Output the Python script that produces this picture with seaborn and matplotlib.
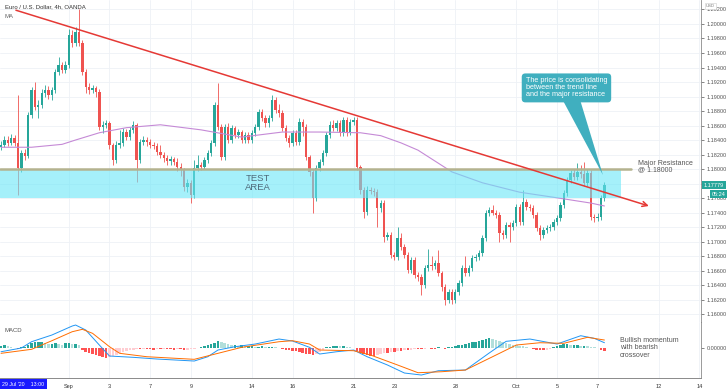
import numpy as np
import matplotlib
matplotlib.use('Agg')
import matplotlib.pyplot as plt
from matplotlib.patches import Polygon
import seaborn as sns

# ---- EUR/USD 4h candles ----
first_open = 1.1830
closes = [
    1.1833, 1.1840, 1.1836, 1.1843, 1.1836, 1.1801, 1.1822, 1.1818, 1.1875, 1.1909,
    1.1886, 1.1888, 1.1905, 1.1909, 1.1902, 1.1909, 1.1934, 1.1944, 1.1937, 1.1944,
    1.1985, 1.1974, 1.1989, 1.1974, 1.1934, 1.1913, 1.1909, 1.1912, 1.1906, 1.1858,
    1.1861, 1.1863, 1.1833, 1.1812, 1.1833, 1.1836, 1.1851, 1.1844, 1.1854, 1.1861,
    1.1812, 1.1837, 1.1840, 1.1837, 1.1833, 1.1832, 1.1823, 1.1819, 1.1815, 1.1811,
    1.1814, 1.1810, 1.1803, 1.1799, 1.1775, 1.1781, 1.1764, 1.1801, 1.1806, 1.1803,
    1.1812, 1.1822, 1.1836, 1.1888, 1.1858, 1.1817, 1.1858, 1.1840, 1.1857, 1.1847,
    1.1851, 1.1840, 1.1847, 1.1840, 1.1850, 1.1858, 1.1879, 1.1870, 1.1863, 1.1870,
    1.1895, 1.1881, 1.1877, 1.1857, 1.1843, 1.1836, 1.1850, 1.1837, 1.1865, 1.1858,
    1.1817, 1.1796, 1.1760, 1.1801, 1.1810, 1.1822, 1.1847, 1.1861, 1.1857, 1.1863,
    1.1850, 1.1868, 1.1851, 1.1865, 1.1868, 1.1803, 1.1771, 1.1741, 1.1771, 1.1770,
    1.1768, 1.1746, 1.1753, 1.1706, 1.1709, 1.1681, 1.1679, 1.1705, 1.1692, 1.1681,
    1.1661, 1.1674, 1.1654, 1.1651, 1.1640, 1.1663, 1.1668, 1.1666, 1.1670, 1.1656,
    1.1637, 1.1619, 1.1630, 1.1619, 1.1630, 1.1643, 1.1663, 1.1656, 1.1663, 1.1677,
    1.1679, 1.1684, 1.1705, 1.1739, 1.1743, 1.1740, 1.1737, 1.1712, 1.1709, 1.1723,
    1.1720, 1.1725, 1.1748, 1.1727, 1.1754, 1.1748, 1.1746, 1.1737, 1.1719, 1.1709,
    1.1716, 1.1719, 1.1720, 1.1727, 1.1732, 1.1750, 1.1767, 1.1785, 1.1794, 1.1789,
    1.1796, 1.1793, 1.1781, 1.1794, 1.1734, 1.1732, 1.1734, 1.1760, 1.1778,
]
highs = [
    1.1838, 1.1845, 1.1846, 1.1848, 1.1847, 1.1902, 1.1826, 1.1827, 1.1879, 1.1913,
    1.1920, 1.1895, 1.1910, 1.1916, 1.1914, 1.1913, 1.1938, 1.1955, 1.1948, 1.1949,
    1.1993, 1.1992, 1.1996, 1.2021, 1.1978, 1.1938, 1.1918, 1.1916, 1.1915, 1.1910,
    1.1866, 1.1868, 1.1866, 1.1836, 1.1838, 1.1854, 1.1856, 1.1855, 1.1858, 1.1866,
    1.1864, 1.1841, 1.1845, 1.1844, 1.1841, 1.1837, 1.1836, 1.1833, 1.1823, 1.1819,
    1.1818, 1.1817, 1.1815, 1.1808, 1.1802, 1.1786, 1.1785, 1.1812, 1.1820, 1.1810,
    1.1816, 1.1826, 1.1840, 1.1892, 1.1918, 1.1862, 1.1862, 1.1863, 1.1861, 1.1860,
    1.1855, 1.1854, 1.1851, 1.1851, 1.1854, 1.1862, 1.1883, 1.1883, 1.1874, 1.1874,
    1.1902, 1.1900, 1.1890, 1.1881, 1.1861, 1.1847, 1.1854, 1.1854, 1.1870, 1.1869,
    1.1862, 1.1820, 1.1800, 1.1805, 1.1814, 1.1826, 1.1851, 1.1866, 1.1868, 1.1867,
    1.1867, 1.1872, 1.1872, 1.1869, 1.1872, 1.1872, 1.1806, 1.1775, 1.1776, 1.1775,
    1.1774, 1.1772, 1.1757, 1.1757, 1.1713, 1.1713, 1.1685, 1.1720, 1.1712, 1.1696,
    1.1685, 1.1678, 1.1678, 1.1658, 1.1655, 1.1668, 1.1690, 1.1680, 1.1674, 1.1688,
    1.1660, 1.1641, 1.1634, 1.1634, 1.1634, 1.1647, 1.1667, 1.1680, 1.1667, 1.1681,
    1.1683, 1.1688, 1.1709, 1.1743, 1.1747, 1.1750, 1.1744, 1.1741, 1.1716, 1.1727,
    1.1727, 1.1729, 1.1752, 1.1752, 1.1771, 1.1758, 1.1752, 1.1750, 1.1741, 1.1723,
    1.1720, 1.1723, 1.1724, 1.1731, 1.1736, 1.1754, 1.1771, 1.1789, 1.1798, 1.1800,
    1.1808, 1.1806, 1.1810, 1.1800, 1.1798, 1.1738, 1.1740, 1.1764, 1.1782,
]
lows = [
    1.1826, 1.1830, 1.1832, 1.1833, 1.1832, 1.1764, 1.1796, 1.1812, 1.1815, 1.1870,
    1.1882, 1.1870, 1.1884, 1.1900, 1.1896, 1.1895, 1.1905, 1.1930, 1.1932, 1.1933,
    1.1940, 1.1968, 1.1970, 1.1970, 1.1930, 1.1905, 1.1904, 1.1905, 1.1900, 1.1854,
    1.1850, 1.1856, 1.1828, 1.1806, 1.1808, 1.1829, 1.1832, 1.1840, 1.1840, 1.1850,
    1.1782, 1.1808, 1.1833, 1.1832, 1.1829, 1.1827, 1.1819, 1.1815, 1.1810, 1.1806,
    1.1806, 1.1805, 1.1797, 1.1790, 1.1770, 1.1768, 1.1753, 1.1760, 1.1797, 1.1798,
    1.1800, 1.1808, 1.1818, 1.1832, 1.1854, 1.1812, 1.1813, 1.1836, 1.1836, 1.1843,
    1.1843, 1.1836, 1.1836, 1.1836, 1.1836, 1.1846, 1.1854, 1.1866, 1.1858, 1.1858,
    1.1866, 1.1877, 1.1872, 1.1852, 1.1838, 1.1831, 1.1832, 1.1833, 1.1833, 1.1845,
    1.1812, 1.1790, 1.1739, 1.1756, 1.1797, 1.1806, 1.1818, 1.1843, 1.1852, 1.1852,
    1.1846, 1.1846, 1.1846, 1.1847, 1.1861, 1.1798, 1.1766, 1.1732, 1.1737, 1.1765,
    1.1763, 1.1720, 1.1741, 1.1700, 1.1702, 1.1677, 1.1674, 1.1675, 1.1688, 1.1677,
    1.1656, 1.1657, 1.1650, 1.1645, 1.1626, 1.1636, 1.1659, 1.1661, 1.1662, 1.1652,
    1.1632, 1.1612, 1.1615, 1.1614, 1.1615, 1.1626, 1.1639, 1.1652, 1.1652, 1.1659,
    1.1673, 1.1675, 1.1680, 1.1701, 1.1735, 1.1736, 1.1733, 1.1700, 1.1703, 1.1705,
    1.1700, 1.1716, 1.1721, 1.1723, 1.1723, 1.1744, 1.1742, 1.1733, 1.1715, 1.1702,
    1.1705, 1.1712, 1.1715, 1.1716, 1.1723, 1.1728, 1.1746, 1.1763, 1.1781, 1.1785,
    1.1785, 1.1788, 1.1777, 1.1777, 1.1729, 1.1727, 1.1728, 1.1730, 1.1756,
]

# moving average (read at a few candles)
ma_index = [0, 9, 18, 22, 29, 37, 47, 59, 71, 83, 94, 106, 112, 118, 123, 133, 142, 153, 163, 174, 178]
ma_values = [1.1830, 1.1830, 1.1834, 1.1840, 1.1850, 1.1857, 1.1861, 1.1854, 1.1844, 1.1851,
             1.1851, 1.1850, 1.1846, 1.1836, 1.1826, 1.1796, 1.1781, 1.1768, 1.1761, 1.1753, 1.1749]

# MACD panel, values in 1e-4
macd_index = [0, 6, 9, 15, 21, 22, 25, 29, 32, 39, 46, 57, 61, 64, 69, 75, 82, 86, 91, 94,
              99, 104, 108, 114, 119, 124, 129, 137, 144, 149, 156, 164, 171, 175, 178]
macd_values = [-3.7, 0, 6.3, 13, 22, 23, 18, 3, -8, -9.3, -11, -13, -8.7, -2, 1.3, 4, 9, 7, 0.7, -6,
               -3.7, -2, -8.7, -17, -25, -27, -22.7, -22, -5, 6.7, 9, 4, 12.3, 9.7, 5.3]
signal_index = [0, 9, 15, 21, 24, 27, 32, 35, 43, 57, 64, 71, 82, 86, 91, 94,
                104, 109, 117, 123, 130, 137, 145, 152, 159, 166, 173, 178]
signal_values = [-5.3, -1.3, 7.3, 16.3, 18.7, 14.7, 1.3, -5.3, -8.7, -11.3, -5.3, 0.7, 6.3, 7.3, 4, -2,
                 -2.7, -7, -17, -24.7, -23.7, -22, -8.7, 3, 5.3, 4.7, 10.7, 8]
hist_values = [
    2, 3, 2, 1, 0.5, -0.5, 1, 1,
    3, 5, 6, 6, 6, 5,
    4, 4, 5, 4, 3, 5, 5, 4, 4, 3,
    -2, -4, -5, -6, -7, -8, -9, -10, -9,
    -8, -7, -5, -4, -3,
    -2, -1.5, -1, -1, -0.5, -1, -1, -1.5, -1, -1, -0.5, -0.5, -1, -1.5, -1, -1, -2, -1.5, -1, -0.5, 0,
    1, 2, 3, 4, 5, 7, 6, 5,
    4, 3, 3, 2, 3, 2, 2, 2, 1.5, 1.5, 2, 1, 1, 1.5, 1, 0.5,
    -1, -1.5, -2, -2.5, -3, -4, -5, -6, -6, -7, -6, -4, -2,
    1, 1.5, 2, 2.5, 2, 2, 1.5, 1, 0.5,
    -3, -5, -6, -7, -8, -8, -7, -6, -5, -5, -4, -4, -3, -3, -2, -2, -1.5, -1, -1,
    -1, -0.5, 0.5, -0.5, -0.5, 1, 0.5, -0.5, 1, 1.5, 2, 3,
    3, 4, 5, 6, 6, 7, 8, 9, 10, 9,
    8, 7, 6, 5, 4, 3.5, 3, 2.5, 2, 1.5, 0.5,
    -1, -2, -2, -2, -1.5, -1, 1,
    2, 3, 4, 4, 3, 3, 3, 2.5,
    2.5, 2, 1.5, 1, 0.5,
    -2, -3,
]

# x axis: trading days after 1 Sep (6 candles a day)
tick_labels = ['Sep', '3', '7', '9', '14', '16', '21', '23', '28', 'Oct', '5', '7', '12', '14']
tick_days = [0, 2, 4, 6, 9, 11, 14, 16, 19, 22, 24, 26, 29, 31]
sep1_candle = 20
price_ticks = [1.160, 1.162, 1.164, 1.166, 1.168, 1.170, 1.172, 1.174, 1.176, 1.178,
               1.180, 1.182, 1.184, 1.186, 1.188, 1.190, 1.192, 1.194, 1.196, 1.198, 1.200, 1.202]

resistance = 1.1800
test_area = (1.1760, 1.1800)
trend_start = (4.4, 1.2019)
trend_end = (191.1, 1.1749)
last_price = 1.17779

GREEN = '#26a69a'
RED = '#ef5350'

sns.set_style('white')
plt.rcParams['font.family'] = ['Liberation Sans', 'DejaVu Sans']

fig = plt.figure(figsize=(7.28, 3.91), dpi=100)
ax = fig.add_axes([0, 0.1765, 0.963, 0.8235])
axm = fig.add_axes([0, 0.0332, 0.963, 0.1432], sharex=ax)

# candles
x = np.arange(len(closes))
c = np.array(closes)
o = np.array([first_open] + closes[:-1])
colors = np.where(c >= o, GREEN, RED)
ax.vlines(x, lows, highs, colors=colors, lw=0.6, zorder=2)
ax.bar(x, np.maximum(np.abs(c - o), 0.00006), bottom=np.minimum(o, c), width=0.7,
       color=colors, lw=0, zorder=3)

sns.lineplot(x=ma_index, y=ma_values, ax=ax, color='#c58ad6', lw=0.8, zorder=3.5, legend=False)

ax.axhspan(test_area[0], test_area[1], xmin=0, xmax=0.886, color='#69e6f7', alpha=0.6, lw=0, zorder=4)
ax.axhline(resistance, xmax=0.900, color='#b4b28f', lw=1.8, zorder=5)
ax.annotate('', xy=trend_end, xytext=trend_start,
            arrowprops=dict(arrowstyle='->', color='#e53935', lw=1.1, mutation_scale=9,
                            shrinkA=0, shrinkB=0), zorder=6)

ax.text(0.368, 0.432, 'TEST\nAREA', transform=ax.transAxes, ha='center', va='center',
        fontsize=6.8, color='#4f6a7a', linespacing=1.0, zorder=6)
ax.text(0.910, 0.482, 'Major Resistance\n@ 1.18000', transform=ax.transAxes, ha='left', va='center',
        fontsize=5, color='#555555', linespacing=0.95, zorder=6)

# callout
teal = '#40afbf'
ax.add_patch(Polygon([(0.800, 0.70), (0.826, 0.70), (0.860, 0.4565)], closed=True,
                     transform=ax.transAxes, fc=teal, ec='none', zorder=7))
ax.text(0.808, 0.727, 'The price is consolidating\nbetween the trend line\nand the major resistance',
        transform=ax.transAxes, ha='center', va='center', multialignment='left',
        fontsize=5.2, color='white', linespacing=1.0, zorder=8,
        bbox=dict(boxstyle='round,pad=0.55,rounding_size=0.5', fc=teal, ec='none'))

ax.text(0.007, 0.978, 'Euro / U.S. Dollar, 4h, OANDA', transform=ax.transAxes, fontsize=4.3,
        color='#333333', va='center')
ax.text(0.007, 0.950, 'MA', transform=ax.transAxes, fontsize=4.3, color='#666666', va='center')

# axes styling
xt = [sep1_candle + 6 * d for d in tick_days]
for a in (ax, axm):
    for s in ('top', 'left'):
        a.spines[s].set_visible(False)
    a.spines['right'].set_color('#8a8a8a')
    a.spines['right'].set_linewidth(0.6)
    a.spines['bottom'].set_color('#8a8a8a')
    a.spines['bottom'].set_linewidth(0.7)
    a.yaxis.tick_right()
    a.tick_params(axis='y', labelsize=4, colors='#555555', length=2, width=0.5, pad=2)
    a.set_xticks(xt)
    a.grid(True, axis='x', color='#eef1f6', lw=0.6, zorder=0)

ax.set_xlim(-0.3, 206.5)
ax.set_ylim(1.15890, 1.20331)
ax.set_yticks(price_ticks)
# the 1.17800 label sits under the live price tag
ax.set_yticklabels(['' if abs(v - 1.178) < 1e-9 else f'{v:.5f}' for v in price_ticks])
ax.grid(True, axis='y', color='#eef1f6', lw=0.6, zorder=0)
ax.tick_params(axis='x', bottom=False, labelbottom=False)

# MACD
h = np.array(hist_values)
prev = np.concatenate([[h[0]], h[:-1]])
hcol = np.where(h >= 0, np.where(h >= prev, GREEN, '#b2dfdb'), np.where(h <= prev, '#ff5252', '#ffcdd2'))
axm.bar(x, h, width=0.75, color=hcol, lw=0, zorder=2)
sns.lineplot(x=macd_index, y=macd_values, ax=axm, color='#2196f3', lw=0.7, zorder=3, legend=False)
sns.lineplot(x=signal_index, y=signal_values, ax=axm, color='#ff6d00', lw=0.7, zorder=3, legend=False)
axm.set_ylim(-30, 26)
axm.set_yticks([0])
axm.set_yticklabels(['0.00000'])
axm.set_xticklabels(tick_labels)
axm.tick_params(axis='x', labelsize=4, colors='#333333', length=2, width=0.5, pad=2)
axm.set_xlabel('')
axm.set_ylabel('')
ax.set_xlabel('')
ax.set_ylabel('')
axm.text(0.007, 0.84, 'MACD', transform=axm.transAxes, fontsize=4.3, color='#555555', va='center')
axm.text(0.884, 0.54, 'Bullish momentum\nwith bearish\ncrossover', transform=axm.transAxes,
         fontsize=5, color='#555555', va='center', linespacing=1.05)

# price labels on the right axis
ytr = ax.get_yaxis_transform()
ax.text(1.004, last_price, f'{last_price:.5f}', transform=ytr, ha='left', va='center', fontsize=4,
        color='white', zorder=10, clip_on=False,
        bbox=dict(boxstyle='square,pad=0.35', fc=GREEN, ec='none'))
ax.text(1.035, last_price - 0.00128, '05:24', transform=ytr, ha='right', va='center', fontsize=4,
        color='white', zorder=10, clip_on=False,
        bbox=dict(boxstyle='square,pad=0.3', fc=GREEN, ec='none'))
fig.text(0.976, 0.985, 'USD', fontsize=3, color='#777777', ha='center', va='center',
         bbox=dict(boxstyle='square,pad=0.3', fc='white', ec='#cccccc', lw=0.4))
fig.text(0.003, 0.017, "29 Jul '20    13:00", fontsize=3.8, color='white', va='center',
         bbox=dict(boxstyle='square,pad=0.45', fc='#1a1aff', ec='none'))

fig.savefig('out.png', dpi=100)
